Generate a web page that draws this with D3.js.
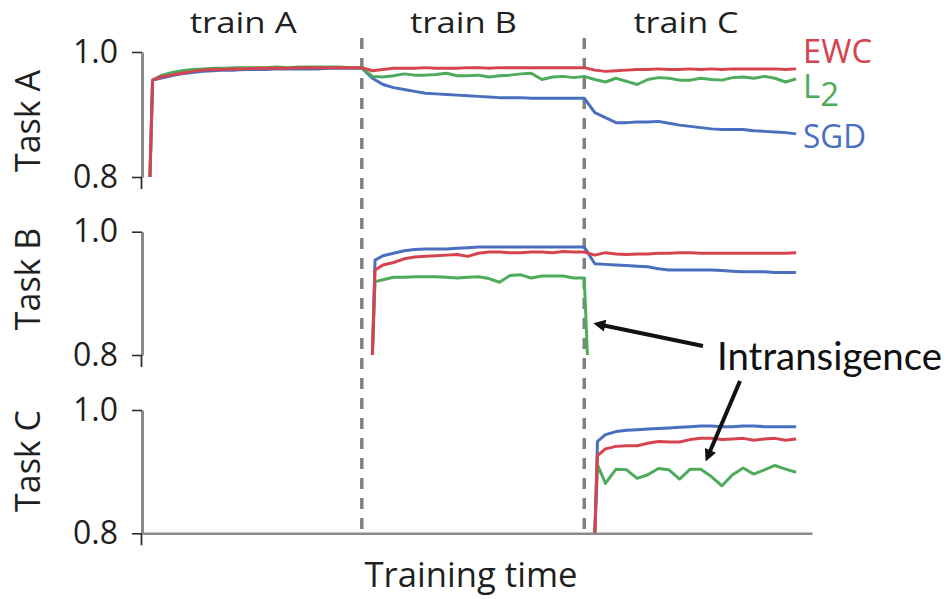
<!DOCTYPE html>
<html>
<head>
<meta charset="utf-8">
<script src="https://cdn.jsdelivr.net/npm/d3@7"></script>
<style>
  body { margin: 0; background: #ffffff; }
</style>
</head>
<body>
<div id="chart"></div>
<script>

// methods, colours and labels
var methods = ["SGD", "L2", "EWC"];   // drawing order, EWC on top
var colors = {EWC: "#d5434f", L2: "#4dab5b", SGD: "#4a6fbf"};
var phaseNames = ["train A", "train B", "train C"];
var taskNames = ["Task A", "Task B", "Task C"];
var yTicks = [0.8, 1.0];
var phaseEnds = [20, 41];

// evaluation steps (one eval right after each task starts)
var stepsA = [0, 0.25].concat(d3.range(1, 62));
var stepsB = [21, 21.25].concat(d3.range(22, 62));
var stepsB_L2 = [21, 21.25].concat(d3.range(22, 42), [41.3]);
var stepsC = [42, 42.25].concat(d3.range(43, 62));

// accuracy on task A
var taskA_EWC = [0.80, 0.955,
  0.960, 0.963, 0.966, 0.969, 0.971, 0.972, 0.972, 0.973, 0.973, 0.974,
  0.974, 0.974, 0.974, 0.975, 0.975, 0.975, 0.975, 0.975, 0.975, 0.975,
  0.970, 0.972, 0.974, 0.974, 0.974, 0.975, 0.974, 0.974, 0.974, 0.975, 0.975,
  0.974, 0.975, 0.975, 0.975, 0.975, 0.975, 0.975, 0.975, 0.975, 0.975,
  0.971, 0.969, 0.970, 0.971, 0.972, 0.972, 0.973, 0.972, 0.972, 0.973,
  0.972, 0.973, 0.972, 0.973, 0.973, 0.973, 0.973, 0.973, 0.972, 0.973];
var taskA_L2 = [0.80, 0.955,
  0.962, 0.967, 0.970, 0.972, 0.973, 0.974, 0.974, 0.975, 0.975, 0.975,
  0.975, 0.976, 0.975, 0.976, 0.976, 0.976, 0.976, 0.976, 0.975, 0.975,
  0.961, 0.960, 0.962, 0.965, 0.963, 0.963, 0.964, 0.966, 0.962, 0.962, 0.963,
  0.960, 0.962, 0.963, 0.965, 0.966, 0.956, 0.960, 0.961, 0.959, 0.961,
  0.956, 0.952, 0.958, 0.953, 0.948, 0.956, 0.959, 0.958, 0.955, 0.955,
  0.958, 0.956, 0.955, 0.959, 0.960, 0.958, 0.961, 0.958, 0.952, 0.957];
var taskA_SGD = [0.80, 0.955,
  0.958, 0.962, 0.965, 0.967, 0.969, 0.970, 0.971, 0.971, 0.972, 0.972,
  0.972, 0.973, 0.973, 0.973, 0.973, 0.973, 0.974, 0.974, 0.974, 0.974,
  0.958, 0.948, 0.943, 0.940, 0.937, 0.934, 0.933, 0.932, 0.931, 0.930, 0.929,
  0.928, 0.927, 0.927, 0.927, 0.926, 0.926, 0.926, 0.926, 0.926, 0.926,
  0.903, 0.895, 0.887, 0.887, 0.888, 0.888, 0.889, 0.886, 0.883, 0.881,
  0.879, 0.877, 0.876, 0.876, 0.876, 0.874, 0.873, 0.872, 0.871, 0.869];

// accuracy on task B
var taskB_EWC = [0.80, 0.938,
  0.946, 0.950, 0.956, 0.959, 0.960, 0.961, 0.962, 0.963, 0.960, 0.965,
  0.967, 0.967, 0.966, 0.966, 0.967, 0.967, 0.966, 0.968, 0.967, 0.967,
  0.962, 0.966, 0.964, 0.963, 0.964, 0.964, 0.965, 0.965, 0.966, 0.966,
  0.965, 0.965, 0.965, 0.965, 0.965, 0.965, 0.965, 0.965, 0.965, 0.966];
var taskB_L2 = [0.80, 0.919,
  0.922, 0.926, 0.926, 0.927, 0.927, 0.927, 0.926, 0.925, 0.926, 0.927,
  0.924, 0.918, 0.929, 0.930, 0.925, 0.928, 0.928, 0.928, 0.925, 0.925,
  0.80];
var taskB_SGD = [0.80, 0.954,
  0.961, 0.965, 0.969, 0.971, 0.972, 0.972, 0.972, 0.973, 0.974, 0.975,
  0.975, 0.975, 0.975, 0.975, 0.975, 0.975, 0.975, 0.975, 0.975, 0.975,
  0.948, 0.947, 0.946, 0.945, 0.944, 0.943, 0.940, 0.938, 0.938, 0.938,
  0.938, 0.938, 0.937, 0.936, 0.935, 0.935, 0.935, 0.934, 0.934, 0.934];

// accuracy on task C
var taskC_EWC = [0.80, 0.926,
  0.937, 0.941, 0.942, 0.942, 0.946, 0.949, 0.948, 0.948, 0.952, 0.954,
  0.954, 0.952, 0.953, 0.954, 0.951, 0.953, 0.954, 0.951, 0.953];
var taskC_L2 = [0.80, 0.911,
  0.881, 0.904, 0.903, 0.889, 0.895, 0.905, 0.903, 0.888, 0.904, 0.904,
  0.892, 0.877, 0.895, 0.906, 0.896, 0.903, 0.910, 0.904, 0.899];
var taskC_SGD = [0.80, 0.949,
  0.960, 0.965, 0.967, 0.968, 0.969, 0.970, 0.971, 0.972, 0.973, 0.974,
  0.974, 0.973, 0.973, 0.974, 0.974, 0.973, 0.973, 0.973, 0.973];

var panels = [
  {task: taskNames[0], top: 52, bottom: 177, labelY: 121,
   series: {EWC: [stepsA, taskA_EWC], L2: [stepsA, taskA_L2], SGD: [stepsA, taskA_SGD]}},
  {task: taskNames[1], top: 231.7, bottom: 355, labelY: 279,
   series: {EWC: [stepsB, taskB_EWC], L2: [stepsB_L2, taskB_L2], SGD: [stepsB, taskB_SGD]}},
  {task: taskNames[2], top: 410, bottom: 533.3, labelY: 461,
   series: {EWC: [stepsC, taskC_EWC], L2: [stepsC, taskC_L2], SGD: [stepsC, taskC_SGD]}}
];

var width = 952, height = 599;
var font = "'Open Sans', 'DejaVu Sans', sans-serif";
var ink = "#1f1f1f";

var svg = d3.select("#chart")
  .append("svg")
    .attr("width", width)
    .attr("height", height);

// shared time axis
var x = d3.scaleLinear()
  .domain([-0.75, 62.5])
  .range([142, 812]);

// dashed task boundaries
svg.selectAll("line.boundary")
  .data(phaseEnds)
  .enter()
  .append("line")
    .attr("class", "boundary")
    .attr("x1", function(d) { return x(d) })
    .attr("x2", function(d) { return x(d) })
    .attr("y1", 38)
    .attr("y2", 537)
    .attr("stroke", "#818181")
    .attr("stroke-width", 3.5)
    .attr("stroke-dasharray", "11,9");

// phase titles
var phaseLabelAt = [8.8, 29.6, 50.6];
var phaseLabelW = [107, 107, 105];
svg.selectAll("text.phase")
  .data(phaseNames)
  .enter()
  .append("text")
    .attr("class", "phase")
    .attr("x", function(d, i) { return x(phaseLabelAt[i]) })
    .attr("y", 33)
    .attr("text-anchor", "middle")
    .attr("textLength", function(d, i) { return phaseLabelW[i] })
    .attr("lengthAdjust", "spacingAndGlyphs")
    .style("font-family", font)
    .style("font-size", "29px")
    .style("fill", ink)
    .text(function(d) { return d });

var line = d3.line()
  .x(function(d) { return x(d[0]) })
  .y(function(d) { return d[2](d[1]) });

panels.forEach(function(p, pi) {
  var y = d3.scaleLinear()
    .domain([0.8, 1.0])
    .range([p.bottom, p.top]);

  var axis = svg.append("g")
    .attr("transform", "translate(142,0)")
    .call(d3.axisLeft(y)
      .tickValues(yTicks)
      .tickFormat(d3.format(".1f"))
      .tickSize(10)
      .tickSizeOuter(0)
      .tickPadding(14));
  axis.select(".domain")
    .attr("stroke", "#8a8a8a")
    .attr("stroke-width", 3);
  axis.selectAll(".tick line")
    .attr("stroke", "#2e2e2e")
    .attr("stroke-width", 1.6);
  axis.selectAll(".tick text")
    .style("font-family", font)
    .style("font-size", "32px")
    .style("fill", ink);

  // little dark stub under the 0.8 tick
  axis.append("line")
    .attr("x1", -0.5).attr("x2", -0.5)
    .attr("y1", y(0.8)).attr("y2", y(0.8) + 12)
    .attr("stroke", "#2e2e2e")
    .attr("stroke-width", 1.8);

  // task label
  svg.append("text")
    .attr("transform", "translate(40," + p.labelY + ") rotate(-90)")
    .attr("text-anchor", "middle")
    .style("font-family", font)
    .style("font-size", "34px")
    .style("fill", ink)
    .text(p.task);

  methods.forEach(function(m) {
    var s = p.series[m];
    var pts = s[0].map(function(t, i) { return [t, s[1][i], y] });
    svg.append("path")
      .datum(pts)
      .attr("fill", "none")
      .attr("stroke", colors[m])
      .attr("stroke-width", 3)
      .attr("stroke-linejoin", "round")
      .attr("d", line);
  });

  if (pi == 2) {
    // time axis along the bottom panel
    var xa = svg.append("g")
      .attr("transform", "translate(0," + y(0.8) + ")")
      .call(d3.axisBottom(x).tickValues([]).tickSizeOuter(0));
    xa.select(".domain")
      .attr("stroke", "#8a8a8a")
      .attr("stroke-width", 2.5);
  }
  p.y = y;
});

// legend at the end of the task A lines
var legendNames = ["EWC", "L2", "SGD"];
var legendY = [63, 98, 148];
var legendW = [69, 33, 63];
legendNames.forEach(function(m, i) {
  var t = svg.append("text")
    .attr("x", 803)
    .attr("y", legendY[i])
    .style("font-family", font)
    .style("font-size", "33px")
    .style("fill", colors[m]);
  if (m == "L2") {
    t.append("tspan").text("L");
    t.append("tspan").attr("dy", 8).text("2");
  } else {
    t.attr("textLength", legendW[i])
      .attr("lengthAdjust", "spacingAndGlyphs")
      .text(m);
  }
});

svg.append("text")
  .attr("x", 471)
  .attr("y", 587)
  .attr("text-anchor", "middle")
  .attr("textLength", 213)
  .attr("lengthAdjust", "spacingAndGlyphs")
  .style("font-family", font)
  .style("font-size", "35px")
  .style("fill", ink)
  .text("Training time");

// intransigence annotation
var defs = svg.append("defs");
defs.append("marker")
  .attr("id", "head")
  .attr("viewBox", "0 0 10 10")
  .attr("refX", 6)
  .attr("refY", 5)
  .attr("markerWidth", 16)
  .attr("markerHeight", 12)
  .attr("markerUnits", "userSpaceOnUse")
  .attr("orient", "auto")
  .append("path")
    .attr("d", "M0,0L10,5L0,10z")
    .attr("fill", "#111");

svg.append("text")
  .attr("x", 717)
  .attr("y", 370)
  .attr("textLength", 225)
  .attr("lengthAdjust", "spacingAndGlyphs")
  .style("font-family", "Lato, 'Open Sans', sans-serif")
  .style("font-size", "39px")
  .style("fill", "#111")
  .text("Intransigence");

var arrows = [
  {from: [703, 346], to: [41.7, 0.852], panel: 1},
  {from: [740, 381], to: [52.4, 0.914], panel: 2}
];
arrows.forEach(function(a) {
  var tx = x(a.to[0]), ty = panels[a.panel].y(a.to[1]);
  var dx = tx - a.from[0], dy = ty - a.from[1];
  var len = Math.sqrt(dx * dx + dy * dy);
  // stop the shaft short so the head tip lands on the target
  var ex = tx - dx / len * 6.5, ey = ty - dy / len * 6.5;
  svg.append("line")
    .attr("x1", a.from[0]).attr("y1", a.from[1])
    .attr("x2", ex).attr("y2", ey)
    .attr("stroke", "#111")
    .attr("stroke-width", 4)
    .attr("marker-end", "url(#head)");
});

</script>
</body>
</html>
